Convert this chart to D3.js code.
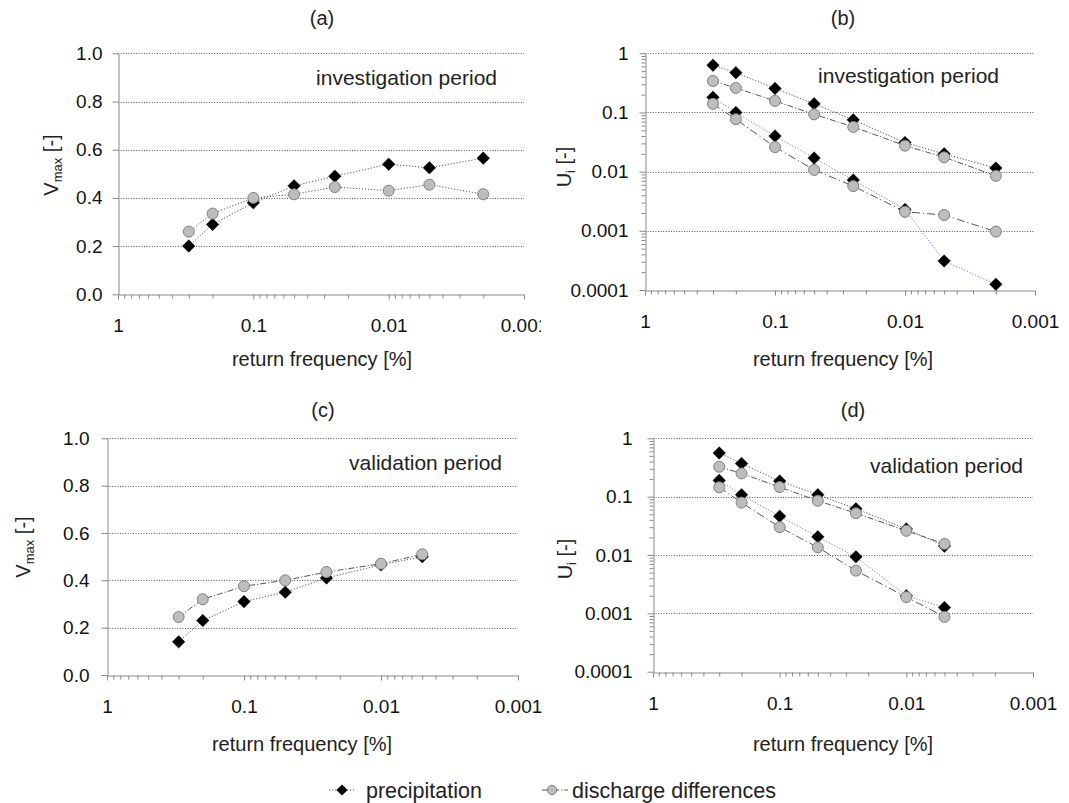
<!DOCTYPE html>
<html>
<head>
<meta charset="utf-8">
<script src="https://cdn.jsdelivr.net/npm/d3@7/dist/d3.min.js"></script>
<style>
  body { margin: 0; background: #fff; }
  text { font-family: "Liberation Sans", Arial, sans-serif; }
</style>
</head>
<body>
<svg id="chart" width="1069" height="803"></svg>
<script>
// ---- data ----------------------------------------------------------------
// return frequencies [%]
const freqInvestigation = [0.3, 0.2, 0.1, 0.05, 0.025, 0.01, 0.005, 0.002];
const freqValidation    = [0.3, 0.2, 0.1, 0.05, 0.025, 0.01, 0.005];

// V_max, investigation period
const vmaxPrecipInv = [0.20, 0.29, 0.38, 0.45, 0.49, 0.54, 0.525, 0.565];
const vmaxDischInv  = [0.26, 0.335, 0.40, 0.415, 0.445, 0.43, 0.455, 0.415];
// V_max, validation period
const vmaxPrecipVal = [0.14, 0.23, 0.31, 0.35, 0.41, 0.465, 0.50];
const vmaxDischVal  = [0.245, 0.32, 0.375, 0.40, 0.435, 0.47, 0.51];

// U_i, investigation period (upper and lower curve of each source)
const uiPrecipUpperInv = [0.63, 0.47, 0.255, 0.14, 0.075, 0.031, 0.020, 0.0115];
const uiDischUpperInv  = [0.34, 0.26, 0.157, 0.093, 0.057, 0.0275, 0.0175, 0.0085];
const uiPrecipLowerInv = [0.18, 0.10, 0.040, 0.017, 0.0072, 0.0023, 0.00031, 0.000125];
const uiDischLowerInv  = [0.14, 0.077, 0.026, 0.0107, 0.0057, 0.0021, 0.00185, 0.00097];
// U_i, validation period
const uiPrecipUpperVal = [0.56, 0.37, 0.185, 0.108, 0.062, 0.028, 0.0142];
const uiDischUpperVal  = [0.325, 0.25, 0.146, 0.085, 0.052, 0.026, 0.0155];
const uiPrecipLowerVal = [0.19, 0.108, 0.046, 0.0205, 0.0093, 0.0020, 0.00126];
const uiDischLowerVal  = [0.145, 0.079, 0.030, 0.0135, 0.0054, 0.0019, 0.00087];

// axis ticks
const xTickValues = [1, 0.1, 0.01, 0.001];
const xTickLabels = ["1", "0.1", "0.01", "0.001"];
const vmaxTickValues = [0, 0.2, 0.4, 0.6, 0.8, 1.0];
const vmaxTickLabels = ["0.0", "0.2", "0.4", "0.6", "0.8", "1.0"];
const uiTickValues = [0.0001, 0.001, 0.01, 0.1, 1];
const uiTickLabels = ["0.0001", "0.001", "0.01", "0.1", "1"];

const legendLabels = ["precipitation", "discharge differences"];

// ---- styles ---------------------------------------------------------------
const styles = {
  precip:      { dash: "1.2,1.8", color: "#555" },
  precipLower: { dash: "1.2,1.8", color: "#7a7ac8" },
  disch:       { dash: "6,2,1.2,2", color: "#555" },
  dischLower:  { dash: "8,3,1.2,3", color: "#555" }
};

const svg = d3.select("#chart");

// minor log ticks (2..9 x 10^k) between two decades
function minorLogTicks(lo, hi) {
  const out = [];
  for (let e = Math.round(Math.log10(lo)); e < Math.round(Math.log10(hi)); e++) {
    for (let m = 2; m <= 9; m++) out.push(m * Math.pow(10, e));
  }
  return out;
}

function drawPanel(o) {
  const g = svg.append("g");
  if (o.clipRight) {
    const id = "clip-" + o.id;
    svg.append("clipPath").attr("id", id)
      .append("rect").attr("x", 0).attr("y", 0).attr("width", o.clipRight).attr("height", 803);
    g.attr("clip-path", `url(#${id})`);
  }

  const x = d3.scaleLog().domain([1, 0.001]).range([o.x0, o.x1]);
  const y = o.log
    ? d3.scaleLog().domain([0.0001, 1]).range([o.yBottom, o.yTop])
    : d3.scaleLinear().domain([0, 1]).range([o.yBottom, o.yTop]);
  const yValues = o.log ? uiTickValues : vmaxTickValues;
  const yLabels = o.log ? uiTickLabels : vmaxTickLabels;

  // dotted horizontal gridlines
  g.append("g").selectAll("line")
    .data(yValues.slice(1))
    .join("line")
    .attr("x1", o.x0).attr("x2", o.x1)
    .attr("y1", d => Math.round(y(d)) + 0.5).attr("y2", d => Math.round(y(d)) + 0.5)
    .attr("stroke", "#555").attr("stroke-width", 1)
    .attr("stroke-dasharray", "1,1.6");

  // x axis
  const xAxis = d3.axisBottom(x)
    .tickValues(xTickValues)
    .tickFormat((d, i) => xTickLabels[i])
    .tickSize(5).tickSizeOuter(0).tickPadding(19);
  const gx = g.append("g").attr("transform", `translate(0,${Math.round(o.yBottom) + 0.5})`).call(xAxis);
  const xMinor = d3.axisBottom(x)
    .tickValues(minorLogTicks(0.001, 1))
    .tickFormat("").tickSize(4).tickSizeOuter(0);
  const gxm = g.append("g").attr("transform", `translate(0,${Math.round(o.yBottom) + 0.5})`).call(xMinor);
  gxm.select(".domain").remove();

  // y axis
  const yAxis = d3.axisLeft(y)
    .tickValues(yValues)
    .tickFormat((d, i) => yLabels[i])
    .tickSize(6).tickSizeOuter(0).tickPadding(o.labelGap);
  const gy = g.append("g").attr("transform", `translate(${Math.round(o.x0) + 0.5},0)`).call(yAxis);
  if (o.log) {
    const yMinor = d3.axisLeft(y)
      .tickValues(minorLogTicks(0.0001, 1))
      .tickFormat("").tickSize(4).tickSizeOuter(0);
    const gym = g.append("g").attr("transform", `translate(${Math.round(o.x0) + 0.5},0)`).call(yMinor);
    gym.select(".domain").remove();
  }

  [gx, gxm, gy].forEach(a => {
    a.selectAll("path,line").attr("stroke", "#8a8a8a");
    a.selectAll("text").attr("font-size", 19).attr("fill", "#111")
      .attr("font-family", '"Liberation Sans", Arial, sans-serif');
  });
  g.selectAll(".tick line").attr("stroke", "#8a8a8a");

  // panel title
  g.append("text").attr("x", o.titleX).attr("y", o.titleY)
    .attr("text-anchor", "middle").attr("font-size", 20).attr("fill", "#222")
    .text(o.title);

  // x axis title
  g.append("text").attr("x", o.xLabelX).attr("y", o.xLabelY)
    .attr("text-anchor", "middle").attr("font-size", 20).attr("fill", "#222")
    .text("return frequency [%]");

  // y axis title with subscript
  const yt = g.append("text")
    .attr("transform", `translate(${o.yLabelX},${o.yLabelY}) rotate(-90)`)
    .attr("text-anchor", "middle").attr("font-size", 20).attr("fill", "#222");
  yt.append("tspan").text(o.log ? "U" : "V");
  yt.append("tspan").attr("font-size", 13).attr("dy", 4).text(o.log ? "i" : "max");
  yt.append("tspan").attr("dy", -4).text(" [-]");

  // period annotation
  g.append("text").attr("x", o.noteX).attr("y", o.noteY)
    .attr("text-anchor", "end").attr("font-size", 21).attr("fill", "#222")
    .text(o.note);

  // series: lines first, then markers; discharge drawn over precipitation
  const line = d3.line().x(d => x(d[0])).y(d => y(d[1]));
  o.series.forEach(s => {
    const pts = o.freq.map((f, i) => [f, s.values[i]]);
    g.append("path").datum(pts)
      .attr("d", line).attr("fill", "none")
      .attr("stroke", s.style.color).attr("stroke-width", 1)
      .attr("stroke-dasharray", s.style.dash);
  });
  const order = o.series.filter(s => s.kind === "precip").concat(o.series.filter(s => s.kind === "disch"));
  order.forEach(s => {
    const pts = o.freq.map((f, i) => [f, s.values[i]]);
    if (s.kind === "precip") {
      g.append("g").selectAll("path").data(pts).join("path")
        .attr("transform", d => `translate(${x(d[0])},${y(d[1])})`)
        .attr("d", d3.symbol(d3.symbolDiamond2, 100)())
        .attr("fill", "#000").attr("stroke", "#000").attr("stroke-width", 0.5);
    } else {
      g.append("g").selectAll("circle").data(pts).join("circle")
        .attr("cx", d => x(d[0])).attr("cy", d => y(d[1])).attr("r", 5.5)
        .attr("fill", "#bdbdbd").attr("stroke", "#808080").attr("stroke-width", 1);
    }
  });
}

// (a) V_max, investigation period
drawPanel({
  id: "a", title: "(a)", titleX: 322, titleY: 25,
  x0: 118, x1: 524, yTop: 53.3, yBottom: 294.3, log: false, labelGap: 10,
  clipRight: 541,
  xLabelX: 322, xLabelY: 366, yLabelX: 58, yLabelY: 165,
  note: "investigation period", noteX: 497, noteY: 85,
  freq: freqInvestigation,
  series: [
    { kind: "precip", values: vmaxPrecipInv, style: styles.precip },
    { kind: "disch", values: vmaxDischInv, style: styles.precip }
  ]
});

// (b) U_i, investigation period
drawPanel({
  id: "b", title: "(b)", titleX: 843, titleY: 25,
  x0: 645, x1: 1035, yTop: 53.3, yBottom: 290, log: true, labelGap: 11,
  xLabelX: 843, xLabelY: 366, yLabelX: 571, yLabelY: 167,
  note: "investigation period", noteX: 999, noteY: 83,
  freq: freqInvestigation,
  series: [
    { kind: "precip", values: uiPrecipUpperInv, style: styles.precip },
    { kind: "disch", values: uiDischUpperInv, style: styles.disch },
    { kind: "precip", values: uiPrecipLowerInv, style: styles.precipLower },
    { kind: "disch", values: uiDischLowerInv, style: styles.dischLower }
  ]
});

// (c) V_max, validation period
drawPanel({
  id: "c", title: "(c)", titleX: 323, titleY: 417,
  x0: 107, x1: 518, yTop: 438.3, yBottom: 675, log: false, labelGap: 12,
  xLabelX: 302, xLabelY: 751, yLabelX: 30, yLabelY: 547,
  note: "validation period", noteX: 502, noteY: 470,
  freq: freqValidation,
  series: [
    { kind: "precip", values: vmaxPrecipVal, style: styles.precip },
    { kind: "disch", values: vmaxDischVal, style: styles.disch }
  ]
});

// (d) U_i, validation period
drawPanel({
  id: "d", title: "(d)", titleX: 853, titleY: 417,
  x0: 653, x1: 1033, yTop: 438.3, yBottom: 671.7, log: true, labelGap: 15,
  xLabelX: 843, xLabelY: 751, yLabelX: 572, yLabelY: 559,
  note: "validation period", noteX: 1023, noteY: 473,
  freq: freqValidation,
  series: [
    { kind: "precip", values: uiPrecipUpperVal, style: styles.precip },
    { kind: "disch", values: uiDischUpperVal, style: styles.disch },
    { kind: "precip", values: uiPrecipLowerVal, style: styles.precipLower },
    { kind: "disch", values: uiDischLowerVal, style: styles.dischLower }
  ]
});

// ---- legend ---------------------------------------------------------------
const legend = svg.append("g");
const legendItems = [
  { x: 329, markerDx: 13, textDx: 37, kind: "precip", style: styles.precip },
  { x: 542, markerDx: 10, textDx: 30, kind: "disch", style: styles.disch }
];
legendItems.forEach((it, i) => {
  const cy = 790;
  legend.append("line").attr("x1", it.x).attr("x2", it.x + 26).attr("y1", cy).attr("y2", cy)
    .attr("stroke", it.style.color).attr("stroke-dasharray", it.style.dash);
  if (it.kind === "precip") {
    legend.append("path").attr("transform", `translate(${it.x + it.markerDx},${cy})`)
      .attr("d", d3.symbol(d3.symbolDiamond2, 80)()).attr("fill", "#000");
  } else {
    legend.append("circle").attr("cx", it.x + it.markerDx).attr("cy", cy).attr("r", 4.6)
      .attr("fill", "#bdbdbd").attr("stroke", "#808080");
  }
  legend.append("text").attr("x", it.x + it.textDx).attr("y", cy + 7.5)
    .attr("font-size", 21.5).attr("fill", "#222").text(legendLabels[i]);
});
</script>
</body>
</html>
